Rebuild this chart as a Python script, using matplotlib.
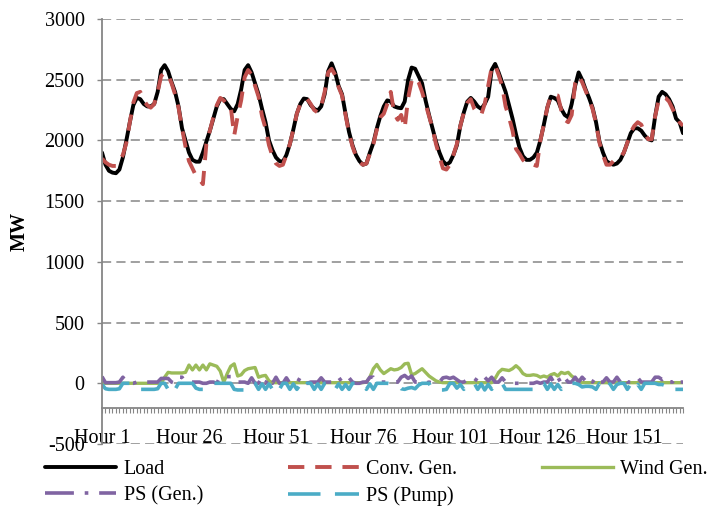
import matplotlib
matplotlib.use("Agg")
import matplotlib.pyplot as plt

plt.rcParams['font.family'] = ['Liberation Serif', 'DejaVu Serif']
plt.rcParams['axes.unicode_minus'] = False

hours = list(range(1, 169))

load = [1900, 1800, 1750, 1735, 1730, 1760, 1860, 2000, 2150, 2290, 2350, 2340,
        2300, 2280, 2280, 2300, 2400, 2580, 2620, 2570, 2480, 2400, 2280, 2100,
        2000, 1900, 1840, 1825, 1825, 1900, 1990, 2080, 2180, 2280, 2340, 2340,
        2300, 2260, 2240, 2300, 2420, 2580, 2620, 2560, 2470, 2380, 2260, 2150,
        2000, 1920, 1860, 1830, 1825, 1880, 1970, 2090, 2220, 2300, 2345, 2340,
        2290, 2260, 2245, 2280, 2380, 2570, 2635, 2560, 2450, 2380, 2220, 2070,
        1960, 1880, 1830, 1800, 1810, 1900, 1980, 2100, 2200, 2280, 2330, 2320,
        2280, 2270, 2265, 2320, 2500, 2600, 2590, 2530, 2470, 2330, 2210, 2100,
        1990, 1900, 1830, 1800, 1820, 1880, 1960, 2120, 2230, 2320, 2350, 2320,
        2280, 2260, 2300, 2360, 2580, 2630, 2560, 2480, 2400, 2290, 2180, 2050,
        1940, 1870, 1840, 1840, 1860, 1900, 2000, 2130, 2270, 2360, 2350, 2330,
        2260, 2210, 2190, 2300, 2450, 2560, 2500, 2420, 2350, 2270, 2150, 1990,
        1900, 1830, 1810, 1800, 1810, 1840, 1900, 1980, 2060, 2100, 2100, 2080,
        2040, 2010, 2000, 2200, 2360, 2400, 2380, 2340, 2280, 2180, 2150, 2060]

conv_gen = [1850, 1820, 1800, 1790, 1790, 1830, 1880, 1980, 2150, 2310, 2390, 2400,
            2330, 2290, 2270, 2300, 2400, 2530, 2560, 2540, 2470, 2380, 2270, 2100,
            1950, 1830, 1770, 1710, 1680, 1640, 1970, 2080, 2190, 2290, 2350, 2330,
            2290, 2280, 2040, 2200, 2330, 2520, 2580, 2540, 2450, 2360, 2200, 2100,
            1960, 1870, 1810, 1790, 1800, 1880, 1970, 2090, 2220, 2300, 2340, 2340,
            2300, 2250, 2230, 2280, 2400, 2560, 2590, 2540, 2440, 2370, 2210, 2060,
            1950, 1870, 1820, 1800, 1810, 1890, 1970, 2090, 2190, 2220, 2300, 2400,
            2220, 2170, 2210, 2100, 2350, 2490, 2520, 2480, 2400, 2300, 2200, 2100,
            1970, 1870, 1770, 1760, 1800, 1880, 1970, 2120, 2230, 2310, 2340, 2260,
            2220, 2210, 2300, 2450, 2600, 2620, 2540, 2450, 2280, 2190, 2080, 1930,
            1890, 1840, 1810, 1800, 1800, 1790, 2000, 2130, 2270, 2370, 2375, 2370,
            2250, 2170, 2150, 2210, 2470, 2530, 2480, 2410, 2340, 2260, 2140, 1980,
            1880, 1800, 1800, 1830, 1850, 1860, 1900, 1980, 2070, 2120, 2150, 2130,
            2060, 2010, 2010, 2200, 2330, 2360, 2350, 2320, 2260, 2200, 2150, 2120]

wind_gen = [0, 0, 0, 0, 0, 0, 0, 0, 0, 0, 0, 0,
            0, 0, 0, 0, 0, 0, 50, 90, 85, 85, 85, 85,
            90, 150, 110, 150, 110, 150, 110, 160, 150, 140, 100, 10,
            80, 140, 160, 60, 70, 105, 120, 125, 130, 50, 60, 65,
            20, 5, 5, 5, 5, 5, 5, 5, 5, 5, 5, 5,
            5, 5, 5, 5, 5, 5, 5, 5, 5, 5, 5, 5,
            5, 5, 5, 5, 10, 50, 120, 155, 110, 80, 100, 120,
            110, 115, 130, 160, 165, 70, 80, 100, 120, 90, 60, 40,
            20, 10, 5, 5, 5, 5, 5, 5, 5, 5, 5, 5,
            5, 5, 5, 5, 5, 40, 90, 115, 110, 105, 120, 145,
            120, 80, 65, 65, 70, 65, 50, 60, 50, 70, 80, 60,
            90, 80, 90, 60, 40, 20, 5, 5, 5, 5, 5, 5,
            5, 5, 5, 5, 5, 5, 5, 5, 5, 5, 5, 5,
            5, 5, 5, 5, 5, 5, 5, 5, 5, 5, 5, 5]

ps_gen = [55, 5, 5, 5, 5, 10, 50, 10, 0, 0, 10, 10, 10, 10, 10, 10, 10, 40, 40, 40, 10, 0, 50, 50,
          10, 10, 10, 10, 10, 0, 0, 10, 10, 0, 55, 55, 55, 55, 10, 10, 10, 10, 0, 45, 0, 0, 50, 0,
          50, 0, 50, 0, 0, 45, 0, 0, 0, 50, 0, 0, 10, 10, 10, 45, 10, 10, 10, 10, 50, 10, 10, 45,
          10, 0, 0, 10, 10, 50, 50, 10, 10, 10, 10, 10, 10, 10, 50, 65, 40, 60, 10, 10, 0, 0, 10, 0,
          0, 10, 45, 50, 40, 50, 30, 10, 10, 30, 10, 10, 50, 25, 50, 20, 50, 10, 10, 45, 10, 0, 0, 0,
          0, 0, 0, 0, 0, 10, 0, 10, 10, 50, 0, 50, 0, 45, 10, 10, 50, 10, 50, 20, 50, 10, 50, 10,
          10, 45, 10, 10, 50, 10, 50, 10, 10, 10, 45, 10, 10, 10, 10, 50, 50, 30, 50, 10, 10, 45, 10, 10]

ps_pump = [-10, -45, -50, -50, -50, -45, 0, 0, 0, 0, -40, -50, -50, -50, -50, -50, -45, 0, 0, -50, -10, -50, 0, 0,
           0, 0, 0, -40, -50, -50, -50, -40, 0, 0, 0, 0, 0, 0, -50, -55, -55, -55, -50, 0, 0, -50, -5, -50,
           -5, -50, -10, -50, 0, 0, -50, -5, -50, -10, -50, 0, 0, -50, -5, -50, 0, 0, 0, -50, -5, -50, -10, -50,
           0, 0, 0, 0, -50, -5, -50, 0, 0, 0, 0, -5, -15, -15, -45, -50, -40, -35, -45, -15, 0, 0, 0, -50,
           -55, -55, -55, -50, 0, 0, -40, -10, -50, -5, 0, 0, -50, -5, -55, -10, -50, 0, 0, 0, -50, -50, -50, -50,
           -50, -50, -50, -50, -50, -50, 0, 0, -50, -5, -50, -10, -50, 0, 0, 0, 0, -10, -30, -25, -25, -30, -50, 0,
           -10, -50, -5, -50, -10, 0, 0, -50, -5, -50, -10, -50, 0, 0, 0, 0, -10, -10, -20, -10, -50, -50, -50, -50]

tick_hours = [1, 26, 51, 76, 101, 126, 151]
y_ticks = [-500, 0, 500, 1000, 1500, 2000, 2500, 3000]

fs = 14.5
gray = '#868686'

fig = plt.figure(figsize=(7.12, 5.07), dpi=100)
ax = fig.add_axes([102/712, 1 - 444/507, 581/712, 425/507])

l_load, = ax.plot(hours, load, color='black', lw=2.8, solid_capstyle='round')
l_conv, = ax.plot(hours, conv_gen, color='#C0504D', lw=2.8, dashes=(4.2, 2.8))
l_wind, = ax.plot(hours, wind_gen, color='#9BBB59', lw=2.4)
l_psg, = ax.plot(hours, ps_gen, color='#8064A2', lw=2.6, dashes=(8, 3, 1, 3))
l_psp, = ax.plot(hours, ps_pump, color='#4BACC6', lw=2.6, dashes=(9, 4))

ax.set_xlim(1, 168)
ax.set_ylim(-500, 3000)
ax.set_yticks(y_ticks)
ax.yaxis.grid(True, color=gray, lw=1.1, linestyle=(0, (6, 3.4)))
ax.set_axisbelow(True)

ax.set_xticks(hours)
ax.set_xticklabels(['Hour %d' % h if h in tick_hours else '' for h in hours])

for s in ['top', 'right']:
    ax.spines[s].set_visible(False)
ax.spines['bottom'].set_position(('data', -200))
ax.spines['bottom'].set_color(gray)
ax.spines['bottom'].set_linewidth(1.3)
ax.spines['left'].set_color(gray)
ax.spines['left'].set_linewidth(1.3)

ax.tick_params(axis='x', direction='out', length=3.5, width=0.8, color=gray,
               labelsize=fs, pad=12)
ax.tick_params(axis='y', direction='out', length=3.5, width=1.0, color=gray,
               labelsize=fs, pad=9)

ax.set_ylabel('MW', fontsize=fs, fontweight='bold')
ax.yaxis.set_label_coords(-0.124, 0.5)

handles = [l_load, l_psg, l_conv, l_psp, l_wind]
labels = ['Load', 'PS (Gen.)', 'Conv. Gen.', 'PS (Pump)', 'Wind Gen.']
fig.legend(handles, labels, ncol=3, loc='upper left',
           bbox_to_anchor=(45/712, 1 - 460/507), frameon=False, fontsize=fs,
           handlelength=3.55, handletextpad=0.35, columnspacing=4.2,
           labelspacing=0.35, borderpad=0, borderaxespad=0)

fig.savefig('out.png', dpi=100)
